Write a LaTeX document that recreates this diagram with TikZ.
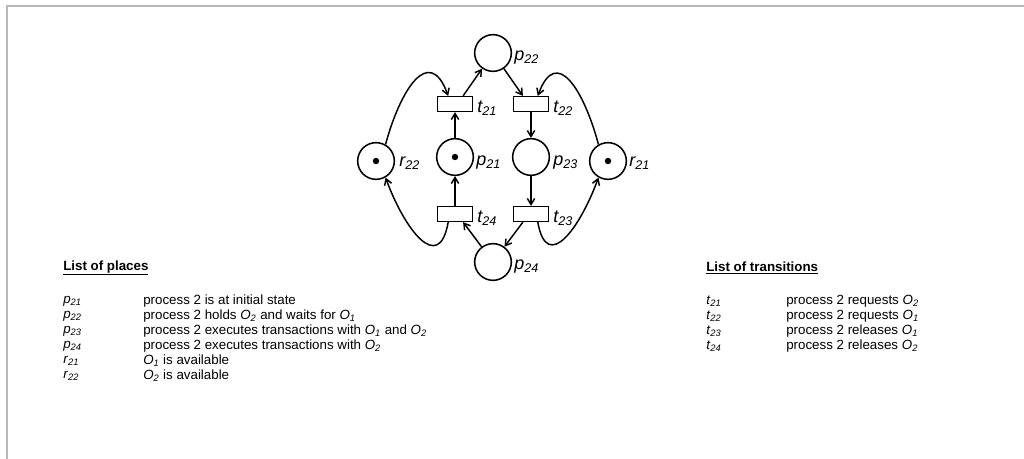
\documentclass[tikz,border=0pt]{standalone}
\usepackage{fontspec}
\setmainfont{Liberation Sans}
\usetikzlibrary{arrows.meta}

\newcommand{\nm}[2]{\textit{#1}\textsubscript{\textit{#2}}}

\begin{document}
\begin{tikzpicture}[x=0.75pt, y=-0.75pt,
  place/.style={circle, draw, line width=1.15pt, minimum size=27.5pt, inner sep=0pt},
  marked/.style={place, path picture={\fill (path picture bounding box.center) circle (2.4pt);}},
  trans/.style={rectangle, draw, line width=1.15pt, minimum width=26pt, minimum height=11pt, inner sep=0pt},
  lbl/.style={anchor=west, inner sep=0pt, font=\fontsize{13.5}{15}\selectfont\itshape},
  txt/.style={anchor=west, inner sep=0pt},
  arc/.style={-{Straight Barb[length=4.5pt, width=5.5pt]}, line width=1.1pt}]

\useasboundingbox (0,0) rectangle (1024,459);
\draw [black!28, line width=1.5pt] (7,459) -- (7,6) -- (1024,6);

\node [place] (p22) at (493, 53) {};
\node [trans] (t21) at (455, 104) {};
\node [trans] (t22) at (531, 104) {};
\node [marked] (r22) at (376, 161) {};
\node [marked] (p21) at (455, 157) {};
\node [place] (p23) at (531, 157) {};
\node [marked] (r21) at (608, 161) {};
\node [trans] (t24) at (455, 214) {};
\node [trans] (t23) at (531, 214) {};
\node [place] (p24) at (493, 262) {};

\node [lbl] (p22l) at (514, 58) {\nm{p}{22}};
\node [lbl] (t21l) at (477, 108) {\nm{t}{21}};
\node [lbl] (t22l) at (553, 108) {\nm{t}{22}};
\node [lbl] (r22l) at (399, 163) {\nm{r}{22}};
\node [lbl] (p21l) at (476, 163) {\nm{p}{21}};
\node [lbl] (p23l) at (553, 163) {\nm{p}{23}};
\node [lbl] (r21l) at (629, 163) {\nm{r}{21}};
\node [lbl] (t24l) at (477, 218) {\nm{t}{24}};
\node [lbl] (t23l) at (553, 218) {\nm{t}{23}};
\node [lbl] (p24l) at (514, 267) {\nm{p}{24}};

\draw [arc] (p21) -- (t21);
\draw [arc] (t21.45) -- (p22);
\draw [arc] (p22) -- (t22.135);
\draw [arc] (t22) -- (p23);
\draw [arc] (p23) -- (t23);
\draw [arc] (t23.-135) -- (p24);
\draw [arc] (p24) -- (t24.-45);
\draw [arc] (t24) -- (p21);
\draw [arc] (r22.60) to [out=75, in=110, looseness=1.8] (t21.130);
\draw [arc] (r21.120) to [out=105, in=70, looseness=1.8] (t22.50);
\draw [arc] (t24.-130) to [out=-100, in=-70, looseness=1.8] (r22.-60);
\draw [arc] (t23.-50) to [out=-80, in=-110, looseness=1.8] (r21.-120);

% list of places
\node [txt, font=\bfseries] (hp) at (63, 268) {\underline{List of places}};
\node [txt] (a1) at (63, 301) {\nm{p}{21}};
\node [txt] (b1) at (143, 301) {process 2 is at initial state};
\node [txt] (a2) at (63, 316) {\nm{p}{22}};
\node [txt] (b2) at (143, 316) {process 2 holds \nm{O}{2} and waits for \nm{O}{1}};
\node [txt] (a3) at (63, 331) {\nm{p}{23}};
\node [txt] (b3) at (143, 331) {process 2 executes transactions with \nm{O}{1} and \nm{O}{2}};
\node [txt] (a4) at (63, 346) {\nm{p}{24}};
\node [txt] (b4) at (143, 346) {process 2 executes transactions with \nm{O}{2}};
\node [txt] (a5) at (63, 361) {\nm{r}{21}};
\node [txt] (b5) at (143, 361) {\nm{O}{1} is available};
\node [txt] (a6) at (63, 376) {\nm{r}{22}};
\node [txt] (b6) at (143, 376) {\nm{O}{2} is available};

% list of transitions
\node [txt, font=\bfseries] (ht) at (706, 268) {\underline{List of transitions}};
\node [txt] (c1) at (706, 301) {\nm{t}{21}};
\node [txt] (d1) at (786, 301) {process 2 requests \nm{O}{2}};
\node [txt] (c2) at (706, 316) {\nm{t}{22}};
\node [txt] (d2) at (786, 316) {process 2 requests \nm{O}{1}};
\node [txt] (c3) at (706, 331) {\nm{t}{23}};
\node [txt] (d3) at (786, 331) {process 2 releases \nm{O}{1}};
\node [txt] (c4) at (706, 346) {\nm{t}{24}};
\node [txt] (d4) at (786, 346) {process 2 releases \nm{O}{2}};

\end{tikzpicture}
\end{document}
